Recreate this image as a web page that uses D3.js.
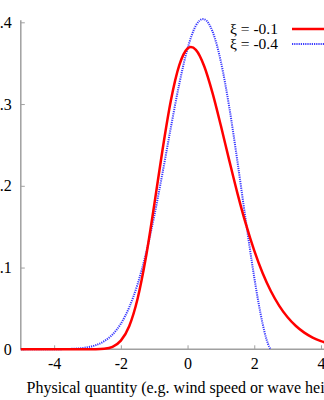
<!DOCTYPE html>
<html><head><meta charset="utf-8">
<script src="https://cdn.jsdelivr.net/npm/d3@7"></script>
<style>
html,body{margin:0;padding:0;background:#fff;overflow:hidden}
svg{display:block}
svg text{font-family:"Liberation Serif","Times New Roman",Tinos,"DejaVu Serif","Noto Serif",serif}
</style></head>
<body><svg id="c" width="324" height="400"></svg>
<script>
// Series
const redX = [-5,-4,-3,-2.75,-2.5,-2.25,-2,-1.75,-1.5,-1.25,-1,-0.75,-0.5,-0.25,0,0.1,0.25,0.5,0.75,1,1.25,1.5,1.75,2,2.25,2.5,2.75,3,3.25,3.5,3.75,4,4.25,4.5,5];
const redY = [0,0,0.00001,0.0001,0.0007,0.0031,0.0106,0.0283,0.0616,0.1122,0.1763,0.2441,0.3043,0.3472,0.3679,0.3698,0.3663,0.3463,0.3134,0.2734,0.2311,0.1902,0.1530,0.1206,0.0933,0.0710,0.0532,0.0392,0.0285,0.0204,0.0144,0.0100,0.0068,0.0046,0.0020];
const blueX = [-5,-4.5,-4,-3.5,-3.25,-3,-2.75,-2.5,-2.25,-2,-1.75,-1.5,-1.25,-1,-0.75,-0.5,-0.25,0,0.25,0.46,0.5,0.75,1,1.25,1.5,1.75,2,2.125,2.25,2.375,2.45,2.5];
const blueY = [0,0,0.0001,0.0005,0.0011,0.0025,0.0051,0.0099,0.0181,0.0313,0.0512,0.0794,0.1168,0.1629,0.2158,0.2714,0.3243,0.3679,0.3960,0.4039,0.4037,0.3887,0.3517,0.2963,0.2286,0.1564,0.0879,0.0576,0.0315,0.0112,0.0030,0];
const xTicks = [-4,-2,0,2,4];
const xTickLabels = ["-4","-2","0","2","4"];
const yTicks = [0,0.1,0.2,0.3,0.4];
const yTickLabels = ["0","0.1","0.2","0.3","0.4"];
const legendLabels = ["ξ = -0.1","ξ = -0.4"];
const xTitle = "Physical quantity (e.g. wind speed or wave height)";

const svg = d3.select("#c");
const x = d3.scaleLinear().domain([-5,5]).range([20.8,354.3]);
const y = d3.scaleLinear().domain([0,0.4]).range([349.3,22.3]);
const grey = "#a0a0a0";
const FONT = "'Liberation Serif','Times New Roman',Tinos,'DejaVu Serif',serif";

// axes
const gx = svg.append("g").attr("transform","translate(0,"+y(0)+")")
  .call(d3.axisBottom(x).tickValues(xTicks).tickSize(-4).tickPadding(8).tickFormat((d,i)=>xTickLabels[i]));
gx.attr("font-family",FONT);
gx.select(".domain").attr("stroke",grey).attr("stroke-width",1.5).attr("d","M"+x(-5)+",0H330");
gx.selectAll(".tick line").attr("stroke",grey);
gx.selectAll(".tick text").attr("font-size",16).attr("fill","#000");

const gy = svg.append("g").attr("transform","translate("+x(-5)+",0)")
  .call(d3.axisLeft(y).tickValues(yTicks).tickSize(-4).tickPadding(9).tickFormat((d,i)=>yTickLabels[i]));
gy.attr("font-family",FONT);
gy.select(".domain").attr("stroke",grey).attr("stroke-width",1.5).attr("d","M0,"+(y(0.4)-2)+"V"+y(0));
gy.selectAll(".tick line").attr("stroke",grey);
gy.selectAll(".tick text").attr("font-size",16).attr("fill","#000");

// curves
const line = d3.line().x(d=>x(d[0])).y(d=>y(d[1])).curve(d3.curveMonotoneX);
svg.append("path").datum(blueX.map((v,i)=>[v,blueY[i]]))
  .attr("d",line).attr("fill","none").attr("stroke","#3a3aff").attr("stroke-width",2).attr("stroke-dasharray","1.2,1");
svg.append("path").datum(redX.map((v,i)=>[v,redY[i]]))
  .attr("d",line).attr("fill","none").attr("stroke","#ff0000").attr("stroke-width",2.5);

// legend
const leg = [{t:legendLabels[0],c:"#ff0000",w:2.5,dash:null,y:29},{t:legendLabels[1],c:"#3a3aff",w:2,dash:"1.2,1",y:44}];
leg.forEach(l=>{
  svg.append("text").attr("x",278).attr("y",l.y+5).attr("text-anchor","end").attr("font-size",15.5).text(l.t);
  svg.append("line").attr("x1",292).attr("x2",324).attr("y1",l.y).attr("y2",l.y)
    .attr("stroke",l.c).attr("stroke-width",l.w).attr("stroke-dasharray",l.dash);
});

// x title
svg.append("text").attr("x",26.5).attr("y",393).attr("font-size",16).text(xTitle);
</script></body></html>
